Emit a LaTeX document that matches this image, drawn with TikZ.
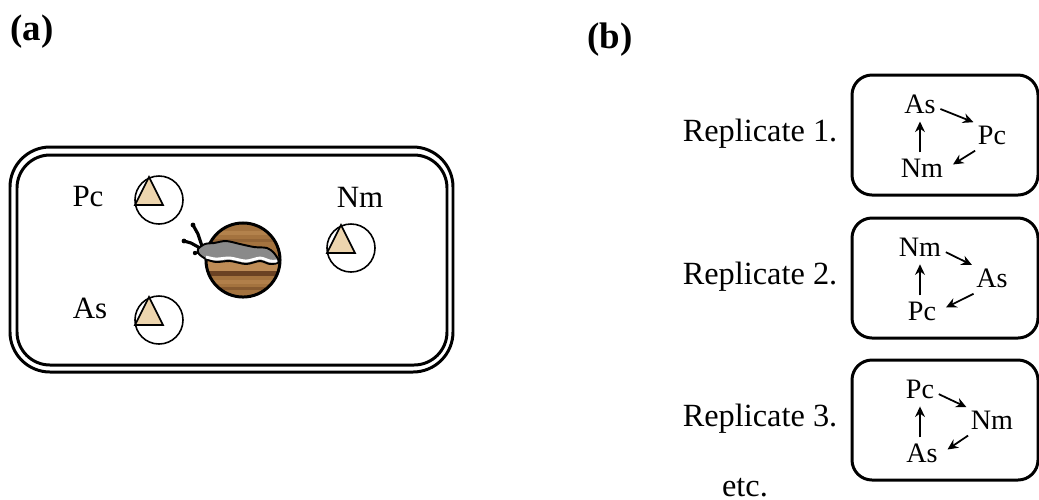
\documentclass[tikz,border=0pt]{standalone}
\usepackage{fontspec}
\setmainfont{Liberation Serif}
\usetikzlibrary{positioning,arrows.meta}
\definecolor{tan}{HTML}{EDD5AE}
\definecolor{wood}{HTML}{A4733F}
\definecolor{woodlight}{HTML}{BE8C56}
\definecolor{wooddark}{HTML}{6B4223}
\definecolor{slug}{HTML}{8A8A8A}

\begin{document}
\begin{tikzpicture}[x=0.01cm,y=-0.01cm,
    spot/.style={draw,line width=0.45pt},
    cyc/.style={-{Stealth[length=3pt,width=2.8pt]},line width=0.5pt},
    sp/.style={font=\fontsize{8}{9}\selectfont,inner sep=0.6pt},
    lab/.style={font=\fontsize{8.8}{10}\selectfont,inner sep=0pt},
    title/.style={font=\bfseries\fontsize{10.5}{12}\selectfont,inner sep=0pt}]
  \useasboundingbox (0,0) rectangle (1039,499);

  \node[title] (ta) at (32,32) {(a)};
  \node[title] (tb) at (610,40) {(b)};

  %% arena, double wall
  \draw[line width=0.85pt,rounded corners=0.4cm] (10,147) rectangle (453,372);
  \draw[line width=0.85pt,rounded corners=0.33cm] (17,155) rectangle (447,365);

  %% food spots
  \foreach \cx/\cy in {159/200,159/320,351/248}{
    \draw[spot] (\cx,\cy) circle (0.24cm);
    \filldraw[fill=tan,line width=0.5pt] (\cx-10,\cy-23) -- (\cx-24,\cy+5) -- (\cx+4,\cy+5) -- cycle;
  }
  \node[lab] (pc) at (88,197) {Pc};
  \node[lab] (nm) at (360,197) {Nm};
  \node[lab] (as) at (90,308) {As};

  %% wooden disk
  \begin{scope}
    \clip (243,260) circle (0.37cm);
    \fill[wood] (200,220) rectangle (290,300);
    \fill[woodlight,opacity=0.6] (200,231) rectangle (290,235);
    \fill[wooddark,opacity=0.3] (200,239) rectangle (290,242);
    \fill[woodlight] (200,262) rectangle (290,271);
    \fill[wooddark] (200,271) rectangle (290,276);
    \fill[woodlight,opacity=0.5] (200,280) rectangle (290,284);
    \fill[wooddark,opacity=0.5] (200,287) rectangle (290,290);
  \end{scope}
  \draw[line width=0.85pt] (243,260) circle (0.37cm);

  %% slug
  \draw[line width=0.9pt] (202,246) -- (198,234) -- (193,225);
  \draw[line width=0.9pt] (200,248) -- (191,243) -- (184,241);
  \draw[line width=0.7pt] (201,252) -- (195,253);
  \fill (193,225) circle (0.024cm) (184,241) circle (0.024cm) (195,253) circle (0.022cm);
  \filldraw[fill=slug,line width=0.55pt] plot[smooth cycle,tension=0.5] coordinates {
    (198,249) (205,244) (214,243) (226,241) (240,244) (254,247)
    (267,248) (274,253) (279,262) (270,264) (260,261) (246,264)
    (230,261) (216,262) (206,259) (199,254)};
  \draw[white,line width=0.8pt] plot[smooth,tension=0.5] coordinates {
    (206,257) (216,259) (230,258) (246,261) (260,258) (270,261) (277,261)};

  %% replicates
  \foreach \k/\top/\ta/\tb/\tc in {1/75/As/Pc/Nm,2/218/Nm/As/Pc,3/360/Pc/Nm/As}{
    \node[lab,font=\fontsize{9.2}{11}\selectfont] (rep\k) at (760,\top+59) {Replicate \k.};
    \draw[line width=0.85pt,rounded corners=0.2cm] (852,\top) rectangle (1038,\top+120);
    \node[sp] (hi\k) at (920,\top+29) {\ta};
    \node[sp] (mid\k) at (992,\top+60) {\tb};
    \node[sp] (lo\k) at (922,\top+93) {\tc};
    \draw[cyc,shorten >=0.5pt,shorten <=0.6pt] ([yshift=-1.2pt]hi\k.east) -- (mid\k.north west);
    \draw[cyc,shorten >=1.5pt,shorten <=1pt] (hi\k.south |- lo\k.north) -- (hi\k.south);
    \draw[cyc] ([yshift=-1pt]mid\k.south west) -- ([xshift=2pt,yshift=1pt]lo\k.east);
  }
  \node[lab,font=\fontsize{9.2}{11}\selectfont] (etc) at (745,488) {etc.};
\end{tikzpicture}
\end{document}
